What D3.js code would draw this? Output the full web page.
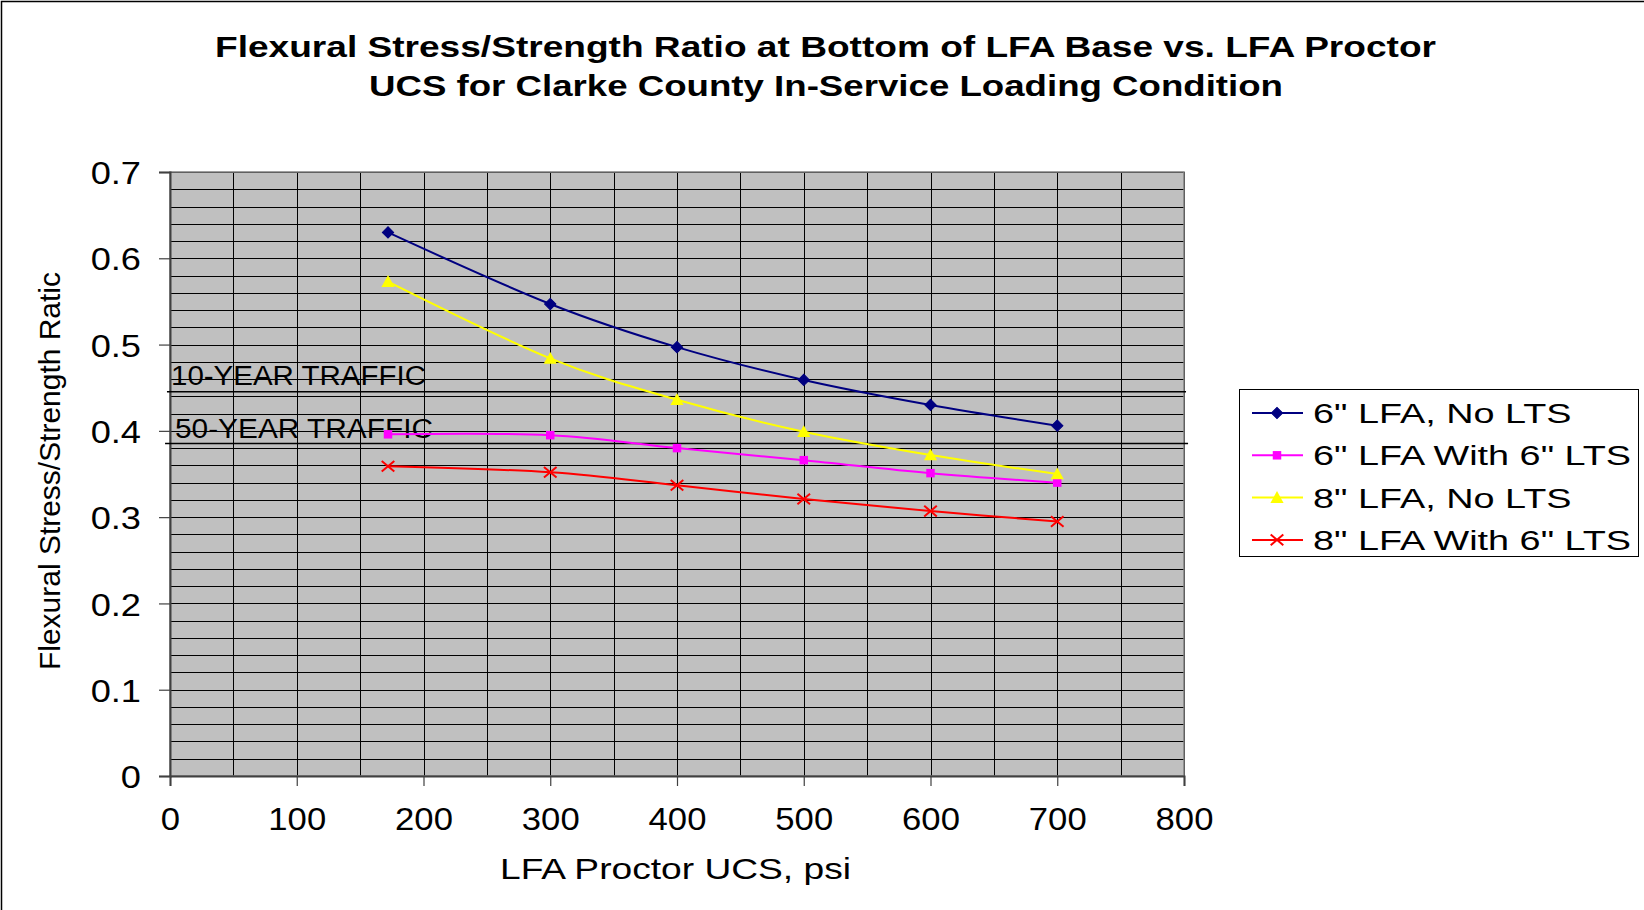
<!DOCTYPE html>
<html>
<head>
<meta charset="utf-8">
<script src="https://cdn.jsdelivr.net/npm/d3@7"></script>
<style>
  body { margin: 0; background: #fff; }
  svg { display: block; }
  text { font-family: "Liberation Sans", Arial, sans-serif; fill: #000; }
</style>
</head>
<body>
<svg id="chart" width="1644" height="910"></svg>
<script>
// ---- data ----
const ucs = [172, 300, 400, 500, 600, 700];
const lfa6NoLts   = [0.630, 0.547, 0.497, 0.459, 0.430, 0.406];
const lfa6WithLts = [0.396, 0.395, 0.380, 0.366, 0.351, 0.340];
const lfa8NoLts   = [0.573, 0.484, 0.436, 0.399, 0.372, 0.350];
const lfa8WithLts = [0.359, 0.352, 0.337, 0.321, 0.307, 0.295];
const seriesNames = ['6" LFA, No LTS', '6" LFA With 6" LTS', '8" LFA, No LTS', '8" LFA With 6" LTS'];
const xTicks = [0, 100, 200, 300, 400, 500, 600, 700, 800];
const yTicks = [0, 0.1, 0.2, 0.3, 0.4, 0.5, 0.6, 0.7];
const trafficLabels = ["10-YEAR TRAFFIC", "50-YEAR TRAFFIC"];
const trafficLevels = [0.4453, 0.3854];
const trafficStart = [-2.4, -3.9];
const trafficEnd = [801.6, 803.2];
const titleLines = [
  "Flexural Stress/Strength Ratio at Bottom of LFA Base vs. LFA Proctor",
  "UCS for Clarke County In-Service Loading Condition"
];
const xTitle = "LFA Proctor UCS, psi";
const yTitle = "Flexural Stress/Strength Ratic";

// ---- layout ----
const svg = d3.select("#chart");
const W = 1644, H = 910;
const plot = { left: 170, right: 1184, top: 172, bottom: 776 };

const x = d3.scaleLinear().domain([0, 800]).range([plot.left, plot.right]);
const y = d3.scaleLinear().domain([0, 0.7]).range([plot.bottom, plot.top]);

const series = [
  { name: seriesNames[0], values: lfa6NoLts,   color: "#000080", marker: "diamond" },
  { name: seriesNames[1], values: lfa6WithLts, color: "#ff00ff", marker: "square" },
  { name: seriesNames[2], values: lfa8NoLts,   color: "#ffff00", marker: "triangle" },
  { name: seriesNames[3], values: lfa8WithLts, color: "#ff0000", marker: "cross" }
];

// chart frame
svg.append("rect").attr("x", 1.5).attr("y", 1.5).attr("width", W + 10).attr("height", H + 10)
  .attr("fill", "#fff").attr("stroke", "#000").attr("stroke-width", 1.5);

// title
titleLines.forEach((t, i) => {
  svg.append("text")
    .attr("x", [215, 369][i]).attr("y", [57, 96][i])
    .attr("font-size", 29).attr("font-weight", "bold")
    .attr("textLength", [1221, 914][i]).attr("lengthAdjust", "spacingAndGlyphs")
    .text(t);
});

// plot background
svg.append("rect")
  .attr("x", plot.left).attr("y", plot.top)
  .attr("width", plot.right - plot.left).attr("height", plot.bottom - plot.top)
  .attr("fill", "#c0c0c0");

// gridlines
const g = svg.append("g");
g.selectAll("line.hgrid").data(d3.range(0, 0.7001, 0.02)).join("line")
  .attr("x1", plot.left).attr("x2", plot.right)
  .attr("y1", d => Math.round(y(d)) + 0.5).attr("y2", d => Math.round(y(d)) + 0.5)
  .attr("stroke", "#000").attr("stroke-width", 1);
g.selectAll("line.vgrid").data(d3.range(0, 801, 50)).join("line")
  .attr("y1", plot.top).attr("y2", plot.bottom)
  .attr("x1", d => Math.round(x(d)) + 0.5).attr("x2", d => Math.round(x(d)) + 0.5)
  .attr("stroke", "#000").attr("stroke-width", 1);

// plot border
svg.append("rect")
  .attr("x", plot.left).attr("y", plot.top)
  .attr("width", plot.right - plot.left).attr("height", plot.bottom - plot.top)
  .attr("fill", "none").attr("stroke", "#808080").attr("stroke-width", 1.5);

// axes
const sxY = 1.15, sxX = 1.1;
const yAxis = svg.append("g").attr("transform", `translate(${plot.left},0)`)
  .call(d3.axisLeft(y).tickValues(yTicks).tickSize(11).tickPadding(18).tickFormat(d => d === 0 ? "0" : d3.format(".1f")(d)));
yAxis.select(".domain").attr("stroke", "#404040").attr("stroke-width", 2);
yAxis.selectAll(".tick line").attr("stroke", "#404040").attr("stroke-width", 1.2);
yAxis.selectAll(".tick text")
  .attr("font-size", 31.5).attr("fill", "#000")
  .attr("x", -29 / sxY).attr("dy", "0.37em")
  .attr("transform", `scale(${sxY},1)`);

const xAxis = svg.append("g").attr("transform", `translate(0,${plot.bottom})`)
  .call(d3.axisBottom(x).tickValues(xTicks).tickSize(10));
xAxis.select(".domain").attr("stroke", "#404040").attr("stroke-width", 2);
xAxis.selectAll(".tick line").attr("stroke", "#404040").attr("stroke-width", 1.2);
xAxis.selectAll(".tick text")
  .attr("font-size", 31.5).attr("fill", "#000")
  .attr("y", 54.5).attr("dy", 0)
  .attr("transform", `scale(${sxX},1)`);
xAxis.attr("font-family", null); yAxis.attr("font-family", null);

// axis titles
svg.append("text")
  .attr("x", 500).attr("y", 879)
  .attr("font-size", 30)
  .attr("textLength", 351).attr("lengthAdjust", "spacingAndGlyphs")
  .text(xTitle);
svg.append("text")
  .attr("transform", "translate(59.5,670) rotate(-90)")
  .attr("font-size", 30)
  .attr("textLength", 398).attr("lengthAdjust", "spacingAndGlyphs")
  .text(yTitle);

// traffic threshold lines and labels
trafficLevels.forEach((lv, i) => {
  svg.append("line")
    .attr("x1", x(trafficStart[i])).attr("x2", x(trafficEnd[i]))
    .attr("y1", y(lv)).attr("y2", y(lv))
    .attr("stroke", "#000").attr("stroke-width", 1.6);
  svg.append("text")
    .attr("x", x(0) + [1, 5][i]).attr("y", y(lv) - [6.5, 5][i])
    .attr("font-size", 27)
    .attr("textLength", [255, 258][i]).attr("lengthAdjust", "spacingAndGlyphs")
    .text(trafficLabels[i]);
});

// markers
function drawMarker(sel, type, color) {
  if (type === "diamond") {
    sel.append("path").attr("d", d3.symbol(d3.symbolSquare, 64)()).attr("transform", "rotate(45)")
      .attr("fill", color).attr("stroke", color).attr("stroke-width", 1);
  } else if (type === "square") {
    sel.append("path").attr("d", d3.symbol(d3.symbolSquare, 72)())
      .attr("fill", color);
  } else if (type === "triangle") {
    sel.append("path").attr("d", "M0,-6.5L6.6,5.3L-6.6,5.3Z")
      .attr("fill", color);
  } else {
    sel.append("path").attr("d", "M-6.3,-5.3L6.3,5.3M-6.3,5.3L6.3,-5.3")
      .attr("fill", "none").attr("stroke", color).attr("stroke-width", 2);
  }
}

// series lines (smoothed)
const line = d3.line()
  .x((d, i) => x(ucs[i]))
  .y(d => y(d))
  .curve(d3.curveCardinal.tension(0));

series.forEach(s => {
  svg.append("path").datum(s.values)
    .attr("d", line)
    .attr("fill", "none").attr("stroke", s.color).attr("stroke-width", 2);
});
series.forEach(s => {
  s.values.forEach((v, i) => {
    const m = svg.append("g").attr("transform", `translate(${x(ucs[i])},${y(v)})`);
    drawMarker(m, s.marker, s.color);
  });
});

// legend
const legend = svg.append("g").attr("transform", "translate(1239,389)");
legend.append("rect").attr("x", 0.5).attr("y", 0.5).attr("width", 399).attr("height", 167)
  .attr("fill", "#fff").attr("stroke", "#000").attr("stroke-width", 1);
series.forEach((s, i) => {
  const row = legend.append("g").attr("transform", `translate(0,${24 + i * 42.3})`);
  row.append("line").attr("x1", 13).attr("x2", 64).attr("y1", 0).attr("y2", 0)
    .attr("stroke", s.color).attr("stroke-width", 2);
  drawMarker(row.append("g").attr("transform", "translate(38,0)"), s.marker, s.color);
  row.append("text")
    .attr("transform", "translate(74,10) scale(1.35,1)")
    .attr("font-size", 28)
    .text(s.name);
});
</script>
</body>
</html>
